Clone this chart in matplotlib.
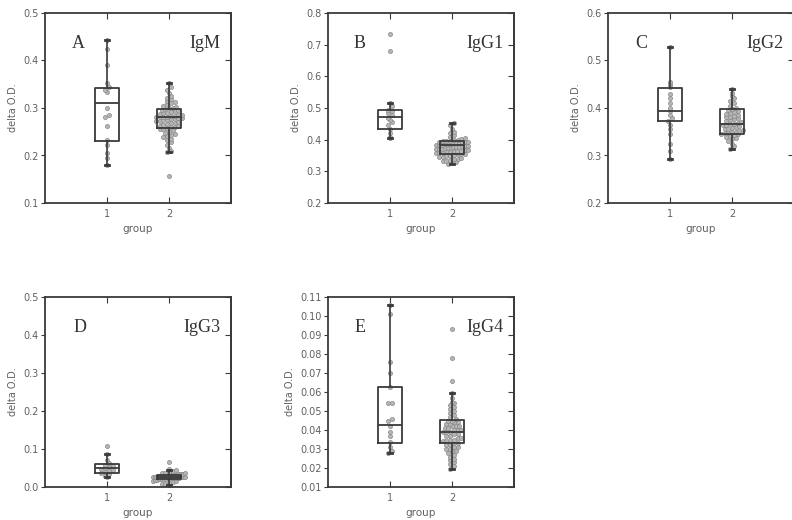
import numpy as np
import matplotlib.pyplot as plt
from matplotlib.ticker import FormatStrFormatter

# panel labels and axis ranges
letters = ['A', 'B', 'C', 'D', 'E']
names = ['IgM', 'IgG1', 'IgG2', 'IgG3', 'IgG4']
ylims = [(0.1, 0.5), (0.2, 0.8), (0.2, 0.6), (0.0, 0.5), (0.01, 0.11)]
ysteps = [0.1, 0.1, 0.1, 0.1, 0.01]
yfmt = ['%.1f', '%.1f', '%.1f', '%.1f', '%.2f']

# box stats (whislo, q1, med, q3, whishi)
box_g1 = [
    (0.180, 0.231, 0.310, 0.343, 0.443),
    (0.406, 0.435, 0.473, 0.494, 0.517),
    (0.293, 0.372, 0.393, 0.443, 0.528),
    (0.026, 0.037, 0.050, 0.060, 0.086),
    (0.028, 0.0334, 0.0428, 0.0626, 0.106),
]
box_g2 = [
    (0.208, 0.257, 0.280, 0.297, 0.352),
    (0.324, 0.355, 0.384, 0.397, 0.454),
    (0.314, 0.346, 0.367, 0.397, 0.441),
    (0.005, 0.021, 0.026, 0.031, 0.045),
    (0.0194, 0.0334, 0.0392, 0.0451, 0.0595),
]

# individual points (estimated)
pts_g1 = [
    [0.443, 0.425, 0.39, 0.352, 0.345, 0.338, 0.333, 0.30, 0.285, 0.28, 0.262,
     0.232, 0.222, 0.205, 0.195, 0.18],
    [0.733, 0.679, 0.517, 0.505, 0.495, 0.49, 0.485, 0.478, 0.47, 0.462, 0.455,
     0.445, 0.435, 0.42, 0.41, 0.406],
    [0.528, 0.455, 0.45, 0.445, 0.43, 0.42, 0.41, 0.40, 0.393, 0.385, 0.378,
     0.372, 0.365, 0.355, 0.345, 0.325, 0.31, 0.293],
    [0.107, 0.086, 0.072, 0.062, 0.058, 0.055, 0.052, 0.05, 0.048, 0.045,
     0.042, 0.04, 0.037, 0.033, 0.03, 0.026],
    [0.106, 0.101, 0.076, 0.070, 0.0625, 0.054, 0.054, 0.046, 0.045, 0.042,
     0.039, 0.037, 0.0335, 0.031, 0.029, 0.028],
]
pts_g2 = [
    [0.352, 0.345, 0.338, 0.332, 0.325, 0.322, 0.318, 0.315, 0.312, 0.31, 0.308,
     0.305, 0.303, 0.30, 0.30, 0.298, 0.296, 0.295, 0.293, 0.292, 0.29, 0.289,
     0.288, 0.286, 0.285, 0.284, 0.283, 0.282, 0.281, 0.28, 0.28, 0.279, 0.278,
     0.277, 0.276, 0.275, 0.274, 0.273, 0.272, 0.27, 0.269, 0.268, 0.266, 0.265,
     0.263, 0.262, 0.26, 0.259, 0.258, 0.256, 0.255, 0.253, 0.25, 0.248, 0.245,
     0.243, 0.24, 0.238, 0.235, 0.232, 0.228, 0.222, 0.215, 0.21, 0.208, 0.157],
    [0.454, 0.445, 0.435, 0.425, 0.42, 0.415, 0.41, 0.405, 0.402, 0.40, 0.398,
     0.397, 0.396, 0.395, 0.394, 0.393, 0.392, 0.391, 0.39, 0.389, 0.388, 0.387,
     0.386, 0.385, 0.384, 0.383, 0.382, 0.381, 0.38, 0.379, 0.378, 0.377, 0.376,
     0.375, 0.374, 0.373, 0.372, 0.37, 0.369, 0.368, 0.367, 0.365, 0.364, 0.363,
     0.362, 0.36, 0.359, 0.358, 0.357, 0.356, 0.355, 0.354, 0.352, 0.35, 0.348,
     0.346, 0.344, 0.342, 0.34, 0.338, 0.336, 0.334, 0.332, 0.33, 0.327, 0.324],
    [0.441, 0.432, 0.425, 0.42, 0.415, 0.41, 0.405, 0.40, 0.398, 0.396, 0.394,
     0.392, 0.39, 0.388, 0.386, 0.384, 0.382, 0.38, 0.378, 0.376, 0.374, 0.372,
     0.37, 0.368, 0.367, 0.366, 0.365, 0.364, 0.362, 0.36, 0.358, 0.356, 0.355,
     0.354, 0.352, 0.35, 0.349, 0.348, 0.347, 0.346, 0.345, 0.343, 0.34, 0.338,
     0.336, 0.334, 0.33, 0.325, 0.32, 0.314],
    [0.065, 0.048, 0.045, 0.042, 0.04, 0.038, 0.037, 0.036, 0.035, 0.034, 0.033,
     0.033, 0.032, 0.032, 0.031, 0.031, 0.03, 0.03, 0.03, 0.029, 0.029, 0.028,
     0.028, 0.028, 0.027, 0.027, 0.027, 0.026, 0.026, 0.026, 0.025, 0.025,
     0.025, 0.024, 0.024, 0.023, 0.023, 0.022, 0.022, 0.021, 0.021, 0.02, 0.019,
     0.018, 0.017, 0.015, 0.013, 0.011, 0.009, 0.007, 0.005],
    [0.093, 0.078, 0.066, 0.0595, 0.057, 0.055, 0.054, 0.053, 0.052, 0.051,
     0.05, 0.049, 0.048, 0.047, 0.046, 0.045, 0.045, 0.044, 0.044, 0.043, 0.043,
     0.042, 0.042, 0.042, 0.041, 0.041, 0.04, 0.04, 0.04, 0.039, 0.039, 0.039,
     0.038, 0.038, 0.037, 0.037, 0.036, 0.036, 0.035, 0.035, 0.034, 0.034,
     0.033, 0.033, 0.032, 0.032, 0.031, 0.031, 0.03, 0.03, 0.029, 0.029, 0.028,
     0.027, 0.026, 0.025, 0.024, 0.023, 0.022, 0.021, 0.0195],
]

# axes placement in pixels (left, top)
W, H = 792, 520
pos_px = [(45, 13), (328, 13), (608, 13), (45, 297), (328, 297)]
aw, ah = 186, 190
letter_x = [0.18, 0.17, 0.18, 0.19, 0.17]

dark = '#3a3a3a'
gray_txt = '#606060'


def swarm(vals, lo, hi, center, dx=0.06, nbins=48, half=0.26):
    v = np.sort(np.asarray(vals, dtype=float))
    b = np.round((v - lo) / (hi - lo) * nbins)
    xs = np.empty_like(v)
    for k in np.unique(b):
        idx = np.where(b == k)[0]
        n = len(idx)
        step = dx if n < 2 else min(dx, 2 * half / (n - 1))
        xs[idx] = center + (np.arange(n) - (n - 1) / 2) * step
    return xs, v


fig = plt.figure(figsize=(W / 100, H / 100), dpi=100)

for i in range(5):
    l, t = pos_px[i]
    ax = fig.add_axes([l / W, 1 - (t + ah) / H, aw / W, ah / H])
    lo, hi = ylims[i]

    # points under the boxes
    for j, pts in enumerate([pts_g1[i], pts_g2[i]]):
        xs, ys = swarm(pts, lo, hi, j + 1)
        ax.scatter(xs, ys, s=9, facecolor='#b5b5b5', edgecolor='#858585',
                   linewidths=0.45, zorder=2)

    stats = []
    for bs in [box_g1[i], box_g2[i]]:
        stats.append(dict(whislo=bs[0], q1=bs[1], med=bs[2], q3=bs[3],
                          whishi=bs[4], fliers=[]))
    ax.bxp(stats, positions=[1, 2], widths=0.4, capwidths=0.08,
           showfliers=False, manage_ticks=False,
           boxprops=dict(color=dark, lw=1.3),
           medianprops=dict(color=dark, lw=1.3),
           whiskerprops=dict(color=dark, lw=1.2),
           capprops=dict(color=dark, lw=2.0), zorder=3)

    ax.set_xlim(0, 3)
    ax.set_ylim(lo, hi)
    ax.set_xticks([1, 2])
    ax.set_yticks(np.arange(lo, hi + ysteps[i] / 2, ysteps[i]))
    ax.yaxis.set_major_formatter(FormatStrFormatter(yfmt[i]))
    ax.tick_params(axis='x', direction='in', top=True, length=4,
                   labelsize=7, labelcolor=gray_txt, color=dark, pad=4)
    ax.tick_params(axis='y', direction='out', left=True, right=False, length=3,
                   labelsize=7, labelcolor=gray_txt, color=dark, pad=1.5)
    sec = ax.secondary_yaxis('right')
    sec.set_yticks(ax.get_yticks())
    sec.tick_params(direction='in', length=4, labelright=False, color=dark)
    sec.spines['right'].set_color(dark)
    sec.spines['right'].set_linewidth(1.3)
    for sp in ax.spines.values():
        sp.set_color(dark)
        sp.set_linewidth(1.3)

    ax.set_ylabel('delta O.D.', fontsize=7, color=gray_txt, labelpad=4)
    ax.set_xlabel('group', fontsize=7.5, color=gray_txt, labelpad=4)

    ax.text(letter_x[i], 0.84, letters[i], transform=ax.transAxes,
            fontsize=13, family='Liberation Serif', color='#333333',
            ha='center', va='center')
    ax.text(0.945, 0.84, names[i], transform=ax.transAxes,
            fontsize=13, family='Liberation Serif', color='#333333',
            ha='right', va='center')

fig.savefig('out.png', dpi=100)
